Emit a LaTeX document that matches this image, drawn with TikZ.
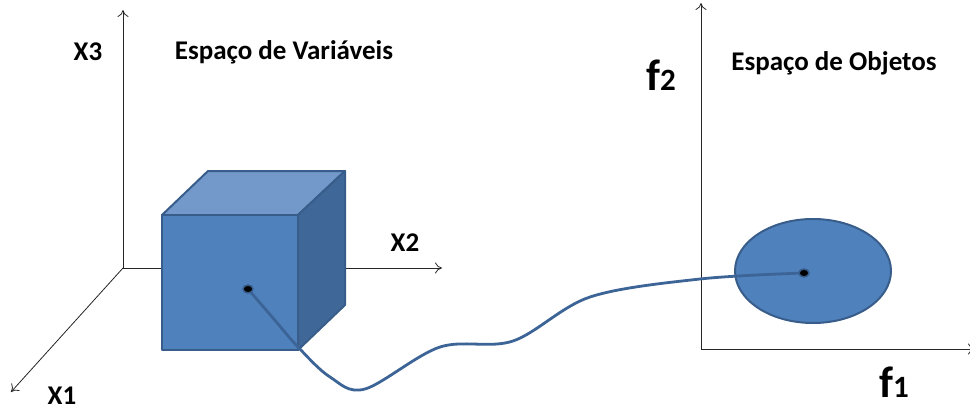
\documentclass[tikz,border=0pt]{standalone}
\usepackage{fontspec}
\setmainfont{Carlito}
\usetikzlibrary{arrows.meta}
\definecolor{fillblue}{HTML}{4F81BD}
\definecolor{topblue}{HTML}{7299CA}
\definecolor{sideblue}{HTML}{3F6797}
\definecolor{edgeblue}{HTML}{385D8A}
\definecolor{curveblue}{HTML}{3C6496}
\tikzset{
  axis/.style={draw=black!85, line width=0.8pt, -{To[length=7pt,width=11pt]}},
  face/.style={draw=edgeblue, line width=2pt, line join=round},
  lbl/.style={font=\bfseries\fontsize{27}{27}\selectfont, inner sep=0pt},
  flbl/.style={font=\bfseries, inner sep=0pt},
  dotmark/.style={fill=black, draw=edgeblue, line width=1.5pt},
  link/.style={draw=curveblue, line width=2.8pt, line cap=round}
}
\begin{document}
\begin{tikzpicture}[x=1pt,y=-1pt]
\useasboundingbox (0,0) rectangle (970,410);
% left axes
\coordinate (o) at (123,268);
\coordinate (x3) at (123,10);
\coordinate (x2) at (442,268);
\coordinate (x1) at (11,392);
\draw[axis] (o) -- (x3);
\draw[axis] (o) -- (x2);
\draw[axis] (o) -- (x1);
% cube
\filldraw[face, fill=topblue] (162,215) -- (208,171) -- (345,171) -- (298,215) -- cycle;
\filldraw[face, fill=sideblue] (298,215) -- (345,171) -- (345,305) -- (298,350) -- cycle;
\filldraw[face, fill=fillblue] (162,215) rectangle (298,350);
% right axes
\coordinate (o2) at (701,349);
\coordinate (f2) at (701,3);
\coordinate (f1) at (975,349);
\draw[axis] (o2) -- (f2);
\draw[axis] (o2) -- (f1);
% ellipse
\filldraw[draw=edgeblue, line width=2pt, fill=fillblue] (813,271) ellipse [x radius=78, y radius=52];
% points
\coordinate (p) at (248,289);
\coordinate (q) at (804,273);
% connecting curve
\draw[link] plot[smooth, tension=0.55] coordinates {(p) (273,318) (298,347) (330,377) (365,389) (440,347) (513,341) (590,297) (700,279) (q)};
\filldraw[dotmark] (p) ellipse [x radius=5, y radius=4];
\filldraw[dotmark] (q) ellipse [x radius=5, y radius=4];
% labels
\node[lbl] (lx3) at (88,52) {X3};
\node[lbl] (lx2) at (405,243) {X2};
\node[lbl] (lx1) at (62,396) {X1};
\node[lbl] (t1) at (284,52) {Espaço de Variáveis};
\node[lbl] (t2) at (834,63) {Espaço de Objetos};
\node[flbl] (lf2) at (661,75) {{\fontsize{44}{44}\selectfont f}{\fontsize{31}{31}\selectfont 2}};
\node[flbl] (lf1) at (894,382) {{\fontsize{44}{44}\selectfont f}{\fontsize{31}{31}\selectfont 1}};
\end{tikzpicture}
\end{document}
